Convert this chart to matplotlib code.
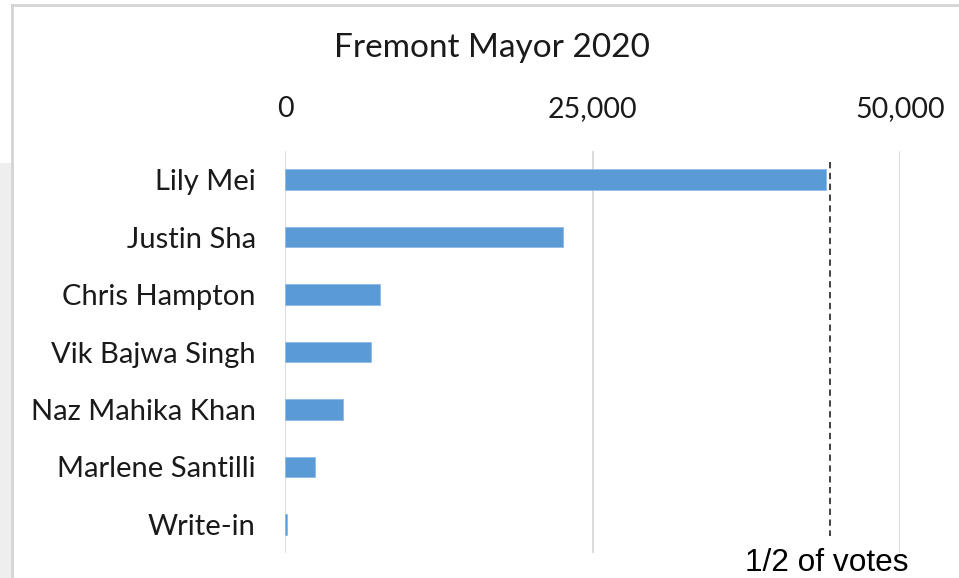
import matplotlib
matplotlib.use("Agg")
import matplotlib.pyplot as plt
from matplotlib.patches import Rectangle
from matplotlib.lines import Line2D

# Fremont mayoral race, 2020 – votes per candidate
candidates = ["Lily Mei", "Justin Sha", "Chris Hampton", "Vik Bajwa Singh",
              "Naz Mahika Khan", "Marlene Santilli", "Write-in"]
votes = [43980, 22600, 7720, 6990, 4720, 2400, 150]
tick_values = [0, 25000, 50000]
tick_labels = ["0", "25,000", "50,000"]

half_votes = sum(votes) / 2

W, H = 959, 578
fig = plt.figure(figsize=(W / 100, H / 100), dpi=100)
fig.patch.set_facecolor("white")

# surrounding frame of the chart object
fig.add_artist(Rectangle((0, 0), 11 / W, (H - 163) / H, transform=fig.transFigure,
                         facecolor="#eeeeee", edgecolor="none", zorder=0))
fig.add_artist(Line2D([12 / W, 12 / W], [0, 1 - 5 / H], transform=fig.transFigure,
                      color="#d4d4d4", lw=2.0))
fig.add_artist(Line2D([12 / W, 1], [1 - 5 / H, 1 - 5 / H], transform=fig.transFigure,
                      color="#d4d4d4", lw=2.0))

left, right = 285 / W, 900 / W
top, bottom = 1 - 151 / H, 1 - 553 / H
ax = fig.add_axes([left, bottom, right - left, top - bottom])
ax.set_facecolor("none")

y = list(range(len(candidates)))
ax.barh(y, votes, height=0.36, color="#5B9BD5", edgecolor="#8fbbe6",
        linewidth=0.6, zorder=3)

ax.set_xlim(0, 50000)
ax.set_ylim(len(candidates) - 0.5, -0.5)

ax.set_xticks(tick_values)
ax.set_xticklabels(tick_labels)
ax.xaxis.tick_top()
ax.set_yticks(y)
ax.set_yticklabels(candidates)

for v in tick_values:
    ax.axvline(v, color="#d9d9d9", lw=1.3, zorder=1)

for s in ax.spines.values():
    s.set_visible(False)

ax.tick_params(axis="both", length=0, colors="#1a1a1a")
ax.tick_params(axis="x", pad=21, labelsize=20.5)
ax.tick_params(axis="y", pad=21, labelsize=21)
for lab in ax.get_xticklabels() + ax.get_yticklabels():
    lab.set_fontfamily("Lato")

# majority threshold marker
ax.plot([half_votes, half_votes], [-0.3, 6.2], color="#333333", lw=1.3,
        ls=(0, (3.5, 2.5)), zorder=4)

fig.text(492 / W, 1 - 48 / H, "Fremont Mayor 2020", ha="center", va="center",
         fontsize=24, family="Lato", color="#1a1a1a")
fig.text(827 / W, 1 - 563 / H, "1/2 of votes", ha="center", va="center",
         fontsize=22.8, family="Liberation Sans", color="black")

fig.savefig("out.png", dpi=100)
